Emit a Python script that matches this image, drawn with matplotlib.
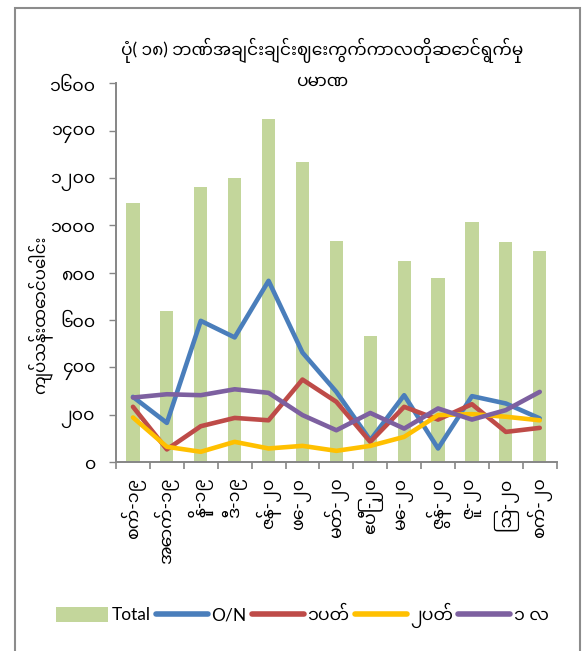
import matplotlib
matplotlib.use("Agg")
import matplotlib.pyplot as plt
from matplotlib.patches import Rectangle

# Lato for the latin bits, Noto Sans Myanmar for the burmese ones
plt.rcParams['font.family'] = ["Lato", "Noto Sans Myanmar", "DejaVu Sans"]

months = ["စက်-၁၉", "အောက်-၁၉", "နို-၁၉", "ဒီ-၁၉", "ဇန်-၂၀", "ဖေ-၂၀", "မတ်-၂၀",
          "ဧပြီ-၂၀", "မေ-၂၀", "ဇွန်-၂၀", "ဇူ-၂၀", "ဩ-၂၀", "စက်-၂၀"]
total = [1094, 639, 1161, 1201, 1448, 1269, 934, 534, 849, 777, 1013, 928, 894]
overnight = [276, 166, 597, 527, 766, 463, 297, 93, 283, 58, 279, 248, 185]
one_week = [234, 54, 152, 187, 177, 349, 255, 86, 234, 180, 245, 128, 145]
two_week = [189, 65, 44, 86, 58, 69, 48, 69, 107, 199, 203, 192, 177]
one_month = [273, 287, 283, 308, 293, 199, 135, 208, 142, 227, 180, 220, 297]

yticks = [0, 200, 400, 600, 800, 1000, 1200, 1400, 1600]
ytick_labels = ["၀", "၂၀၀", "၄၀၀", "၆၀၀", "၈၀၀", "၁၀၀၀", "၁၂၀၀", "၁၄၀၀", "၁၆၀၀"]

title = "ပုံ( ၁၈) ဘဏ်အချင်းချင်းဈေးကွက်ကာလတိုဆောင်ရွက်မှု\nပမာဏ"
ylabel = "ကျပ်သန်းထောင်ပေါင်း"
legend_names = ["Total", "O/N", "၁ပတ်", "၂ပတ်", "၁ လ"]

fig = plt.figure(figsize=(5.86, 6.51), dpi=100)
ax = fig.add_axes([0.198, 0.290, 0.752, 0.582])

x = list(range(len(months)))
axis_grey = "#868686"
lw = 3.3

bars = ax.bar(x, total, width=0.39, color="#C3D69B", zorder=1)
l1, = ax.plot(x, overnight, color="#4A7EBB", lw=lw, solid_capstyle="round", zorder=3)
l2, = ax.plot(x, one_week, color="#BE4B48", lw=lw, solid_capstyle="round", zorder=3)
l3, = ax.plot(x, two_week, color="#FFC000", lw=lw, solid_capstyle="round", zorder=3)
l4, = ax.plot(x, one_month, color="#7D60A0", lw=lw, solid_capstyle="round", zorder=4)

ax.set_xlim(-0.5, len(months) - 0.5)
ax.set_ylim(0, 1600)
ax.set_yticks(yticks)
ax.set_yticklabels(ytick_labels, fontsize=12.5)
ax.set_xticks(x)
ax.set_xticklabels(months, rotation=90, fontsize=12.5, va="top", ha="center")
ax.set_xticks([i - 0.5 for i in range(len(months) + 1)], minor=True)
ax.tick_params(axis="x", which="major", length=0, pad=11)
ax.tick_params(axis="x", which="minor", length=5, width=1.2, color=axis_grey, direction="out")
ax.tick_params(axis="y", length=5, width=1.0, color=axis_grey, direction="out", pad=10)

for s in ("top", "right"):
    ax.spines[s].set_visible(False)
for s in ("left", "bottom"):
    ax.spines[s].set_color(axis_grey)
    ax.spines[s].set_linewidth(1.4)

fig.text(0.549, 0.903, title, ha="center", va="center", fontsize=12.3, linespacing=1.8)
fig.text(0.068, 0.516, ylabel, rotation=90, ha="center", va="center", fontsize=12)

leg = fig.legend([bars, l1, l2, l3, l4], legend_names, loc="center",
                 bbox_to_anchor=(0.516, 0.054), ncol=5, frameon=False, fontsize=12.5,
                 handlelength=3.0, handleheight=0.9, handletextpad=0.2,
                 columnspacing=0.3)
for h in leg.legend_handles[1:]:
    h.set_linewidth(4)

# outer chart border
fig.patches.append(Rectangle((15 / 586, -0.01), (580 - 15) / 586, 1 - 8 / 651 + 0.01,
                             transform=fig.transFigure, fill=False,
                             edgecolor="#8C8C8C", lw=1.5))

fig.savefig("out.png", dpi=100)
